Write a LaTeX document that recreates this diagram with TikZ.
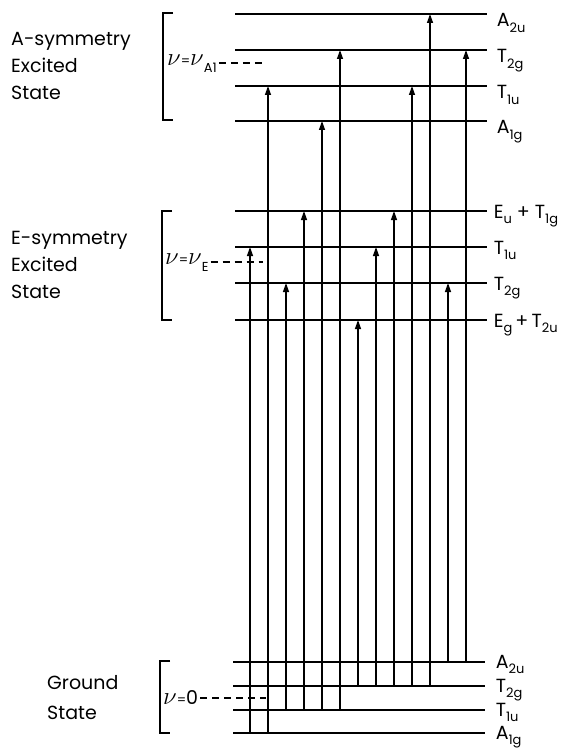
\documentclass[tikz,border=0pt]{standalone}
\usepackage{fontspec}
\setmainfont{Poppins}
\usetikzlibrary{arrows.meta}
\newcommand{\lowsub}[1]{\raisebox{-0.28em}{\fontsize{13}{13}\selectfont#1}}
\newcommand{\smalleq}{{\fontsize{13}{13}\selectfont=}}

\begin{document}
\begin{tikzpicture}[
    x=1pt, y=-1pt,
    level/.style={line width=1.5pt},
    trans/.style={line width=1.3pt,-{Triangle[length=9pt,width=6pt]}},
    bracket/.style={line width=1.3pt},
    guide/.style={line width=1.5pt,dash pattern=on 7pt off 5pt},
    state/.style={align=left,anchor=west,inner sep=0pt,font=\fontsize{19}{27}\selectfont},
    term/.style={anchor=base west,inner sep=0pt,font=\fontsize{19}{20}\selectfont},
    quantum/.style={anchor=west,inner sep=0pt,font=\fontsize{25}{25}\selectfont}
]
\useasboundingbox (0,0) rectangle (563,749);

\coordinate (c1) at (250,0); \coordinate (c2) at (268,0); \coordinate (c3) at (286,0);
\coordinate (c4) at (304,0); \coordinate (c5) at (322,0); \coordinate (c6) at (340,0);
\coordinate (c7) at (358,0); \coordinate (c8) at (376,0); \coordinate (c9) at (394,0);
\coordinate (c10) at (412,0); \coordinate (c11) at (430,0); \coordinate (c12) at (448,0);
\coordinate (c13) at (466,0);

% A-symmetry excited state
\coordinate (aA2u) at (235,14);
\coordinate (aT2g) at (235,50);
\coordinate (aT1u) at (235,86);
\coordinate (aA1g) at (235,121);
\draw[level] (aA2u) -- ++(252,0) node[term,xshift=9pt,yshift=-13pt] (aA2uL) {A\lowsub{2u}};
\draw[level] (aT2g) -- ++(252,0) node[term,xshift=9pt,yshift=-13pt] (aT2gL) {T\lowsub{2g}};
\draw[level] (aT1u) -- ++(252,0) node[term,xshift=9pt,yshift=-13pt] (aT1uL) {T\lowsub{1u}};
\draw[level] (aA1g) -- ++(252,0) node[term,xshift=9pt,yshift=-13pt] (aA1gL) {A\lowsub{1g}};

% E-symmetry excited state
\coordinate (eEuT1g) at (235,211);
\coordinate (eT1u) at (235,247);
\coordinate (eT2g) at (235,283);
\coordinate (eEgT2u) at (235,320);
\draw[level] (eEuT1g) -- ++(252,0) node[term,xshift=6pt,yshift=-7pt] (eEuT1gL) {E\lowsub{u} + T\lowsub{1g}};
\draw[level] (eT1u) -- ++(252,0) node[term,xshift=6pt,yshift=-7pt] (eT1uL) {T\lowsub{1u}};
\draw[level] (eT2g) -- ++(252,0) node[term,xshift=6pt,yshift=-7pt] (eT2gL) {T\lowsub{2g}};
\draw[level] (eEgT2u) -- ++(252,0) node[term,xshift=6pt,yshift=-7pt] (eEgT2uL) {E\lowsub{g}\,+\,T\lowsub{2u}};

% ground state
\coordinate (gA2u) at (233,662);
\coordinate (gT2g) at (233,686);
\coordinate (gT1u) at (233,710);
\coordinate (gA1g) at (233,733);
\draw[level] (gA2u) -- ++(252,0) node[term,xshift=10pt,yshift=-6pt] (gA2uL) {A\lowsub{2u}};
\draw[level] (gT2g) -- ++(252,0) node[term,xshift=10pt,yshift=-6pt] (gT2gL) {T\lowsub{2g}};
\draw[level] (gT1u) -- ++(252,0) node[term,xshift=10pt,yshift=-6pt] (gT1uL) {T\lowsub{1u}};
\draw[level] (gA1g) -- ++(252,0) node[term,xshift=10pt,yshift=-6pt] (gA1gL) {A\lowsub{1g}};

\node[state] (asym) at (11,66) {A-symmetry\\Excited\\State};
\node[state] (esym) at (11,265) {E-symmetry\\Excited\\State};
\node[state] (gnd) at (47,698) {Ground\\[3pt]State};

\draw[bracket] (173,13) -| (163,120) -- (173,120);
\draw[bracket] (172,211) -| (162,320) -- (172,320);
\draw[bracket] (170,661) -| (160,733) -- (170,733);

\node[quantum] (nuA) at (167,64) {$\nu$\smalleq$\nu$\lowsub{A1}};
\node[quantum] (nuE) at (165,263) {$\nu$\smalleq$\nu$\lowsub{E}};
\node[quantum] (nuG) at (163,698) {$\nu$\smalleq{\fontsize{19}{19}\selectfont 0}};
\coordinate (nuAend) at (266,63);
\coordinate (nuEend) at (263,262);
\coordinate (nuGend) at (266,698);
\draw[guide] ([xshift=2pt]nuA.east |- nuAend) -- (nuAend);
\draw[guide] ([xshift=2pt]nuE.east |- nuEend) -- (nuEend);
\draw[guide] ([xshift=2pt]nuG.east |- nuGend) -- (nuGend);

\draw[trans] (c1 |- gA1g) -- (c1 |- eT1u);
\draw[trans] (c2 |- gA1g) -- (c2 |- aT1u);
\draw[trans] (c3 |- gT1u) -- (c3 |- eT2g);
\draw[trans] (c4 |- gT1u) -- (c4 |- eEuT1g);
\draw[trans] (c5 |- gT1u) -- (c5 |- aA1g);
\draw[trans] (c6 |- gT1u) -- (c6 |- aT2g);
\draw[trans] (c7 |- gT2g) -- (c7 |- eEgT2u);
\draw[trans] (c8 |- gT2g) -- (c8 |- eT1u);
\draw[trans] (c9 |- gT2g) -- (c9 |- eEuT1g);
\draw[trans] (c10 |- gT2g) -- (c10 |- aT1u);
\draw[trans] (c11 |- gT2g) -- (c11 |- aA2u);
\draw[trans] (c12 |- gA2u) -- (c12 |- eT2g);
\draw[trans] (c13 |- gA2u) -- (c13 |- aT2g);
\end{tikzpicture}
\end{document}
